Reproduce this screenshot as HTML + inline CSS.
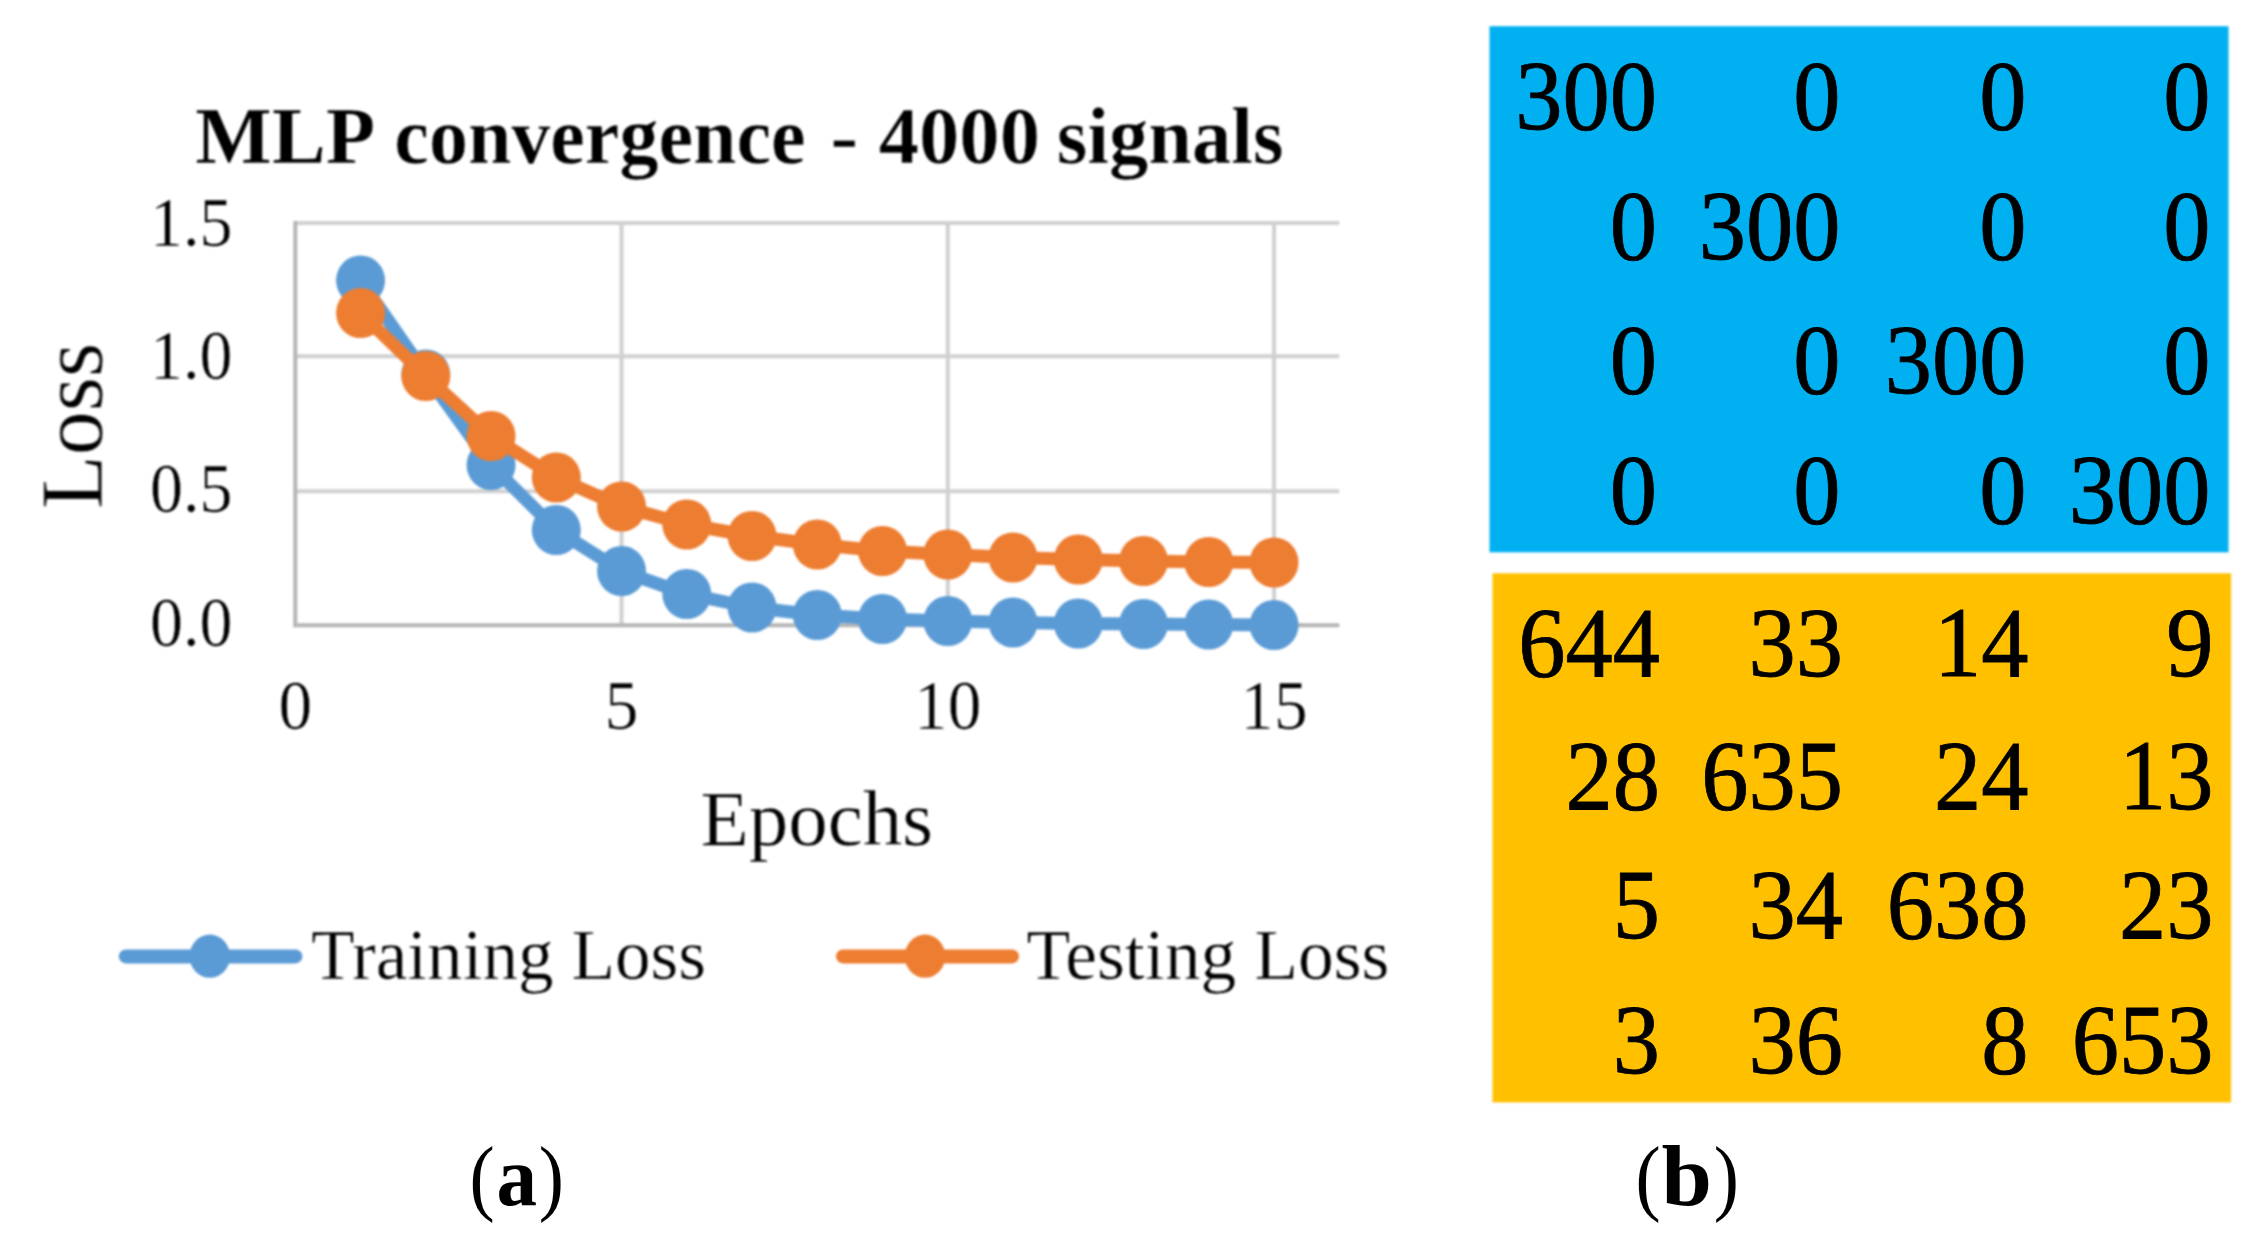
<!DOCTYPE html>
<html lang="en"><head><meta charset="utf-8"><title>MLP convergence - 4000 signals</title>
<style>
html,body{margin:0;padding:0;background:#fff;}
body{width:2252px;height:1252px;overflow:hidden;}
svg{display:block;}
text{font-family:"Liberation Serif","Times New Roman",serif;fill:#000;stroke:#fff;stroke-width:0.5px;paint-order:fill stroke;}
.crisp text{stroke:none;}
.crisp .m text{stroke:#000;stroke-width:0.8px;}
.b{font-weight:bold;}
</style></head><body>
<svg width="2252" height="1252" viewBox="0 0 2252 1252">
<defs><filter id="soft" filterUnits="userSpaceOnUse" x="0" y="0" width="2252" height="1252" color-interpolation-filters="sRGB"><feGaussianBlur stdDeviation="1"/></filter></defs>
<rect width="2252" height="1252" fill="#fff"/>
<g filter="url(#soft)">

<g fill="none" stroke="#D0D0D0" stroke-width="4.0">
<line x1="295.30" y1="223.00" x2="1339.30" y2="223.00"/>
<line x1="295.30" y1="356.30" x2="1339.30" y2="356.30"/>
<line x1="295.30" y1="491.20" x2="1339.30" y2="491.20"/>
<line x1="621.55" y1="223.00" x2="621.55" y2="625.30"/>
<line x1="947.80" y1="223.00" x2="947.80" y2="625.30"/>
<line x1="1274.05" y1="223.00" x2="1274.05" y2="625.30"/>
</g>
<g fill="none" stroke="#B5B5B5" stroke-width="4.0">
<line x1="293.30" y1="625.30" x2="1339.30" y2="625.30"/>
<line x1="295.30" y1="221.00" x2="295.30" y2="625.30"/>
</g>
<polyline points="360.55,280.50 425.80,374.50 491.05,465.00 556.30,530.00 621.55,571.00 686.80,594.00 752.05,607.50 817.30,615.00 882.55,619.00 947.80,621.00 1013.05,622.50 1078.30,623.50 1143.55,624.00 1208.80,624.50 1274.05,625.00" fill="none" stroke="#5B9BD5" stroke-width="13.0" stroke-linejoin="round" stroke-linecap="round"/>
<g fill="#5B9BD5">
<ellipse cx="360.55" cy="280.50" rx="24.5" ry="25.1"/>
<ellipse cx="425.80" cy="374.50" rx="24.5" ry="25.1"/>
<ellipse cx="491.05" cy="465.00" rx="24.5" ry="25.1"/>
<ellipse cx="556.30" cy="530.00" rx="24.5" ry="25.1"/>
<ellipse cx="621.55" cy="571.00" rx="24.5" ry="25.1"/>
<ellipse cx="686.80" cy="594.00" rx="24.5" ry="25.1"/>
<ellipse cx="752.05" cy="607.50" rx="24.5" ry="25.1"/>
<ellipse cx="817.30" cy="615.00" rx="24.5" ry="25.1"/>
<ellipse cx="882.55" cy="619.00" rx="24.5" ry="25.1"/>
<ellipse cx="947.80" cy="621.00" rx="24.5" ry="25.1"/>
<ellipse cx="1013.05" cy="622.50" rx="24.5" ry="25.1"/>
<ellipse cx="1078.30" cy="623.50" rx="24.5" ry="25.1"/>
<ellipse cx="1143.55" cy="624.00" rx="24.5" ry="25.1"/>
<ellipse cx="1208.80" cy="624.50" rx="24.5" ry="25.1"/>
<ellipse cx="1274.05" cy="625.00" rx="24.5" ry="25.1"/>
</g>
<polyline points="360.55,313.00 425.80,376.00 491.05,436.00 556.30,477.50 621.55,506.50 686.80,524.50 752.05,536.00 817.30,544.50 882.55,551.00 947.80,554.50 1013.05,557.50 1078.30,559.50 1143.55,561.00 1208.80,562.00 1274.05,562.50" fill="none" stroke="#ED7D31" stroke-width="13.0" stroke-linejoin="round" stroke-linecap="round"/>
<g fill="#ED7D31">
<ellipse cx="360.55" cy="313.00" rx="24.5" ry="25.1"/>
<ellipse cx="425.80" cy="376.00" rx="24.5" ry="25.1"/>
<ellipse cx="491.05" cy="436.00" rx="24.5" ry="25.1"/>
<ellipse cx="556.30" cy="477.50" rx="24.5" ry="25.1"/>
<ellipse cx="621.55" cy="506.50" rx="24.5" ry="25.1"/>
<ellipse cx="686.80" cy="524.50" rx="24.5" ry="25.1"/>
<ellipse cx="752.05" cy="536.00" rx="24.5" ry="25.1"/>
<ellipse cx="817.30" cy="544.50" rx="24.5" ry="25.1"/>
<ellipse cx="882.55" cy="551.00" rx="24.5" ry="25.1"/>
<ellipse cx="947.80" cy="554.50" rx="24.5" ry="25.1"/>
<ellipse cx="1013.05" cy="557.50" rx="24.5" ry="25.1"/>
<ellipse cx="1078.30" cy="559.50" rx="24.5" ry="25.1"/>
<ellipse cx="1143.55" cy="561.00" rx="24.5" ry="25.1"/>
<ellipse cx="1208.80" cy="562.00" rx="24.5" ry="25.1"/>
<ellipse cx="1274.05" cy="562.50" rx="24.5" ry="25.1"/>
</g>
<line x1="125.80" y1="956.4" x2="295.40" y2="956.4" stroke="#5B9BD5" stroke-width="14" stroke-linecap="round"/>
<ellipse cx="209.80" cy="956.2" rx="20.3" ry="21.6" fill="#5B9BD5"/>
<line x1="843.00" y1="956.4" x2="1012.00" y2="956.4" stroke="#ED7D31" stroke-width="14" stroke-linecap="round"/>
<ellipse cx="925.00" cy="956.2" rx="20.3" ry="21.6" fill="#ED7D31"/>
<text class="b" transform="translate(0 162.6) scale(1 1.015)" font-size="79" xml:space="preserve"><tspan x="195.30" textLength="180.08" lengthAdjust="spacingAndGlyphs">MLP</tspan> <tspan x="394.30" textLength="411.35" lengthAdjust="spacingAndGlyphs">convergence</tspan> <tspan x="830.50" textLength="27.63" lengthAdjust="spacingAndGlyphs">-</tspan> <tspan x="878.80" textLength="161.16" lengthAdjust="spacingAndGlyphs">4000</tspan> <tspan x="1056.80" textLength="226.73" lengthAdjust="spacingAndGlyphs">signals</tspan></text>
<text transform="translate(232.50 246.30) scale(0.9500 1.0000)" font-size="69.5" text-anchor="end">1.5</text>
<text transform="translate(232.50 379.40) scale(0.9500 1.0000)" font-size="69.5" text-anchor="end">1.0</text>
<text transform="translate(232.50 512.10) scale(0.9500 1.0000)" font-size="69.5" text-anchor="end">0.5</text>
<text transform="translate(232.50 645.50) scale(0.9500 1.0000)" font-size="69.5" text-anchor="end">0.0</text>
<text transform="translate(295.30 729.00) scale(0.9700 1.0000)" font-size="69.5" text-anchor="middle">0</text>
<text transform="translate(621.55 729.00) scale(0.9700 1.0000)" font-size="69.5" text-anchor="middle">5</text>
<text transform="translate(947.80 729.00) scale(0.9700 1.0000)" font-size="69.5" text-anchor="middle">10</text>
<text transform="translate(1274.05 729.00) scale(0.9700 1.0000)" font-size="69.5" text-anchor="middle">15</text>
<text transform="translate(700.50 845.30)" font-size="79">Epochs</text>
<text transform="translate(101.70 509.00) rotate(-90)" font-size="88">Loss</text>
<text transform="translate(311.00 978.60)" font-size="71.2">Training Loss</text>
<text transform="translate(1026.50 978.60)" font-size="71.6">Testing Loss</text>
</g>
<g class="crisp">
<g filter="url(#soft)">
<rect x="1489.5" y="26.2" width="739.0" height="526.1" fill="#00B0F0"/>
<rect x="1492.5" y="573.3" width="738.6" height="529.1" fill="#FFC000"/>
</g>
<g class="m">
<text transform="translate(1657.00 129.00) scale(1.0000 1.0500)" font-size="94.5" text-anchor="end">300</text>
<text transform="translate(1840.50 129.00) scale(1.0000 1.0500)" font-size="94.5" text-anchor="end">0</text>
<text transform="translate(2026.50 129.00) scale(1.0000 1.0500)" font-size="94.5" text-anchor="end">0</text>
<text transform="translate(2210.50 129.00) scale(1.0000 1.0500)" font-size="94.5" text-anchor="end">0</text>
<text transform="translate(1657.00 258.80) scale(1.0000 1.0500)" font-size="94.5" text-anchor="end">0</text>
<text transform="translate(1840.50 258.80) scale(1.0000 1.0500)" font-size="94.5" text-anchor="end">300</text>
<text transform="translate(2026.50 258.80) scale(1.0000 1.0500)" font-size="94.5" text-anchor="end">0</text>
<text transform="translate(2210.50 258.80) scale(1.0000 1.0500)" font-size="94.5" text-anchor="end">0</text>
<text transform="translate(1657.00 393.30) scale(1.0000 1.0500)" font-size="94.5" text-anchor="end">0</text>
<text transform="translate(1840.50 393.30) scale(1.0000 1.0500)" font-size="94.5" text-anchor="end">0</text>
<text transform="translate(2026.50 393.30) scale(1.0000 1.0500)" font-size="94.5" text-anchor="end">300</text>
<text transform="translate(2210.50 393.30) scale(1.0000 1.0500)" font-size="94.5" text-anchor="end">0</text>
<text transform="translate(1657.00 522.70) scale(1.0000 1.0500)" font-size="94.5" text-anchor="end">0</text>
<text transform="translate(1840.50 522.70) scale(1.0000 1.0500)" font-size="94.5" text-anchor="end">0</text>
<text transform="translate(2026.50 522.70) scale(1.0000 1.0500)" font-size="94.5" text-anchor="end">0</text>
<text transform="translate(2210.50 522.70) scale(1.0000 1.0500)" font-size="94.5" text-anchor="end">300</text>
</g>
<g class="m">
<text transform="translate(1660.00 675.90) scale(1.0000 1.0500)" font-size="94.5" text-anchor="end">644</text>
<text transform="translate(1843.00 675.90) scale(1.0000 1.0500)" font-size="94.5" text-anchor="end">33</text>
<text transform="translate(2028.50 675.90) scale(1.0000 1.0500)" font-size="94.5" text-anchor="end">14</text>
<text transform="translate(2213.50 675.90) scale(1.0000 1.0500)" font-size="94.5" text-anchor="end">9</text>
<text transform="translate(1660.00 808.80) scale(1.0000 1.0500)" font-size="94.5" text-anchor="end">28</text>
<text transform="translate(1843.00 808.80) scale(1.0000 1.0500)" font-size="94.5" text-anchor="end">635</text>
<text transform="translate(2028.50 808.80) scale(1.0000 1.0500)" font-size="94.5" text-anchor="end">24</text>
<text transform="translate(2213.50 808.80) scale(1.0000 1.0500)" font-size="94.5" text-anchor="end">13</text>
<text transform="translate(1660.00 938.30) scale(1.0000 1.0500)" font-size="94.5" text-anchor="end">5</text>
<text transform="translate(1843.00 938.30) scale(1.0000 1.0500)" font-size="94.5" text-anchor="end">34</text>
<text transform="translate(2028.50 938.30) scale(1.0000 1.0500)" font-size="94.5" text-anchor="end">638</text>
<text transform="translate(2213.50 938.30) scale(1.0000 1.0500)" font-size="94.5" text-anchor="end">23</text>
<text transform="translate(1660.00 1073.10) scale(1.0000 1.0500)" font-size="94.5" text-anchor="end">3</text>
<text transform="translate(1843.00 1073.10) scale(1.0000 1.0500)" font-size="94.5" text-anchor="end">36</text>
<text transform="translate(2028.50 1073.10) scale(1.0000 1.0500)" font-size="94.5" text-anchor="end">8</text>
<text transform="translate(2213.50 1073.10) scale(1.0000 1.0500)" font-size="94.5" text-anchor="end">653</text>
</g>
<text y="1204.8" font-size="84"><tspan x="469.60" textLength="25.17" lengthAdjust="spacingAndGlyphs">(</tspan><tspan class="b" font-size="84" x="496.40" textLength="40.53" lengthAdjust="spacingAndGlyphs">a</tspan><tspan x="538.75" textLength="25.17" lengthAdjust="spacingAndGlyphs">)</tspan></text>
<text y="1204.8" font-size="84"><tspan x="1635.60" textLength="25.17" lengthAdjust="spacingAndGlyphs">(</tspan><tspan class="b" font-size="86.5" x="1661.60" textLength="50.45" lengthAdjust="spacingAndGlyphs">b</tspan><tspan x="1713.65" textLength="25.17" lengthAdjust="spacingAndGlyphs">)</tspan></text>
</g></svg></body></html>
